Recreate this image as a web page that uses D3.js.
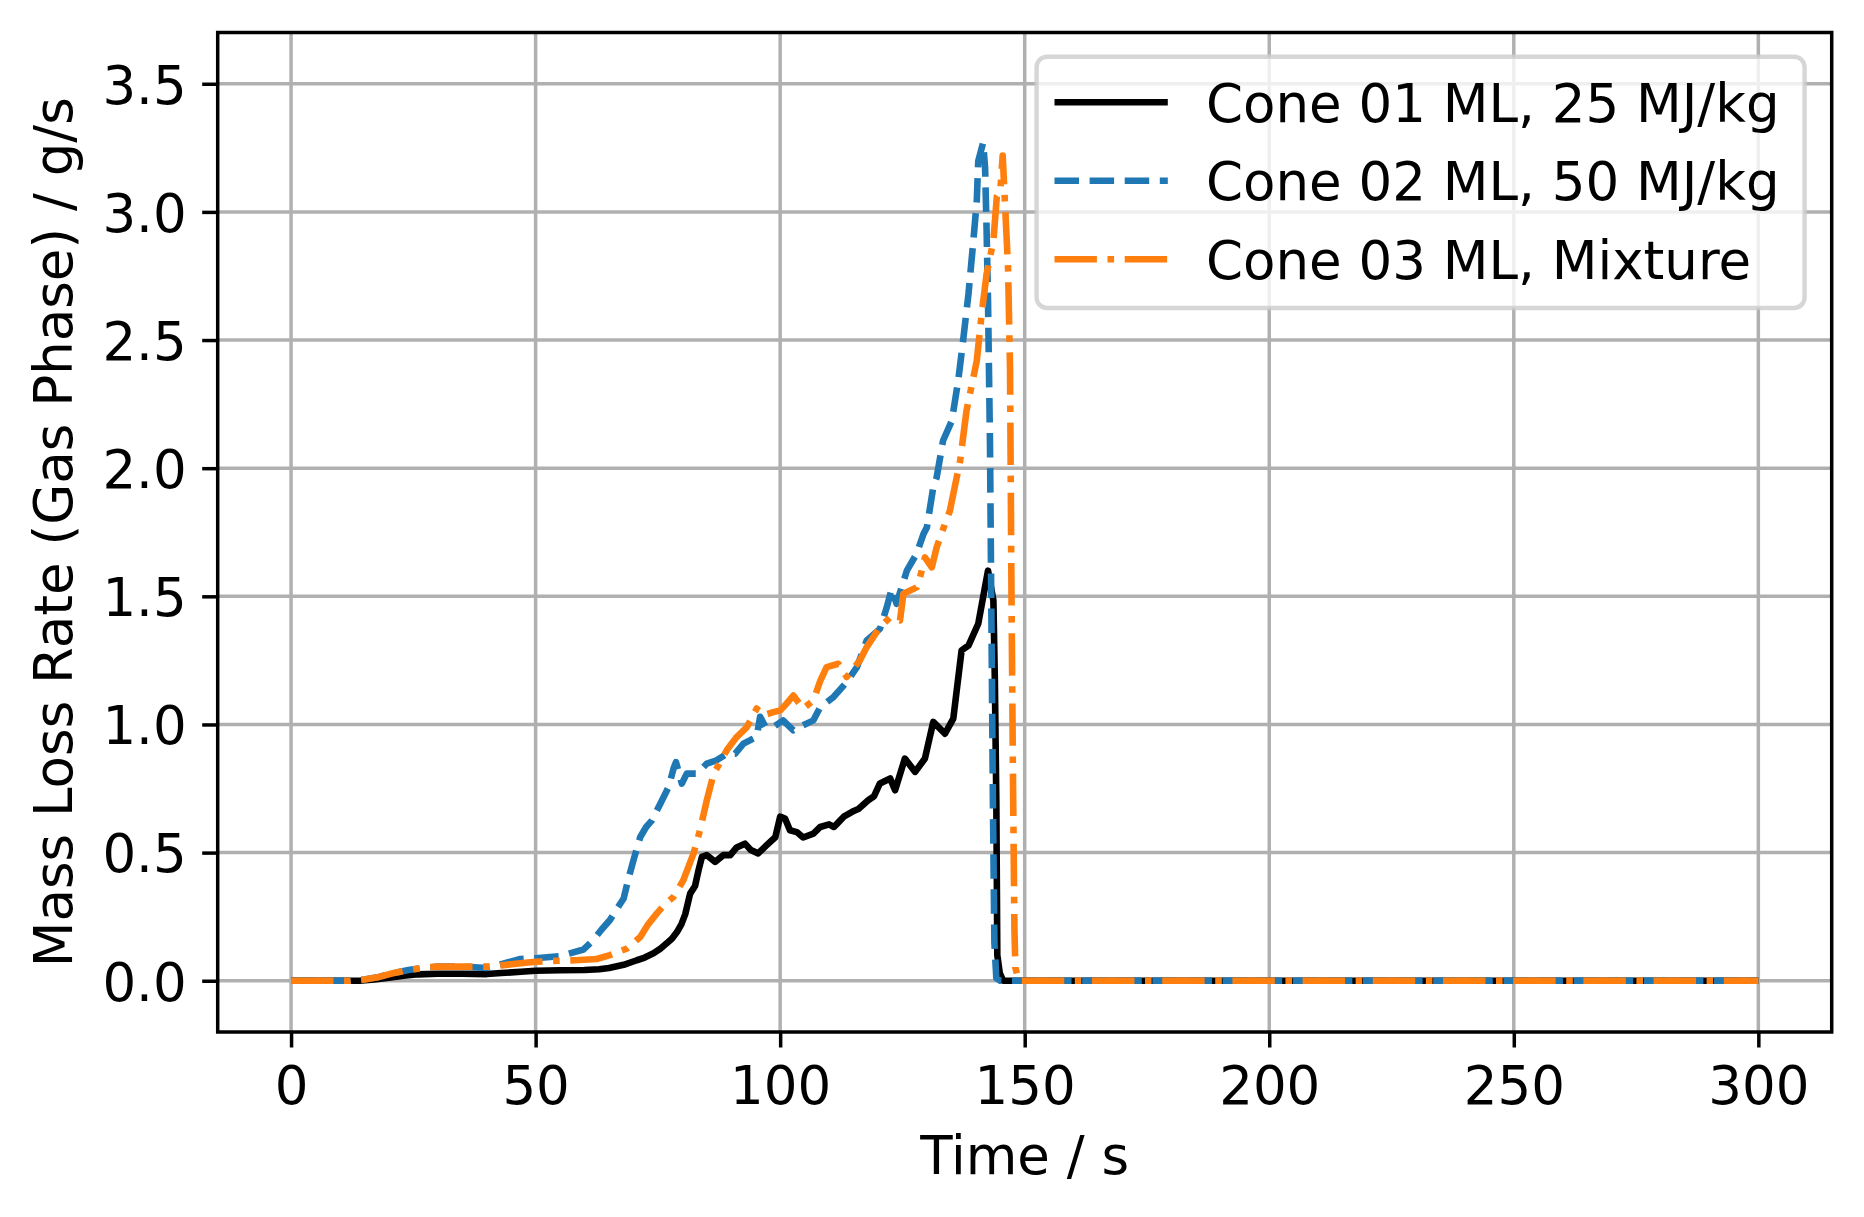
<!DOCTYPE html>
<html>
<head>
<meta charset="utf-8">
<script src="https://cdn.jsdelivr.net/npm/d3@7"></script>
<style>
html,body{margin:0;padding:0;background:#fff;}
svg{display:block;font-family:"DejaVu Sans",sans-serif;}
</style>
</head>
<body>
<svg id="chart" width="1864" height="1217"></svg>
<script>
// ---- data (time [s], mass loss rate [g/s]) ----
const cone01 = [[0,0],[14,0],[17,0.005],[20,0.012],[23,0.02],[26,0.025],[30,0.027],[35,0.027],[40,0.026],[43,0.03],[47,0.035],[50,0.039],[55,0.041],[60,0.042],[63,0.045],[65,0.05],[68,0.062],[70.7,0.08],[72,0.088],[74.1,0.107],[75.5,0.125],[76.8,0.146],[77.9,0.165],[78.9,0.19],[79.8,0.22],[80.6,0.26],[81.6,0.34],[82.6,0.37],[83.3,0.43],[84,0.483],[85,0.49],[86.7,0.464],[88.4,0.49],[89.8,0.49],[91.1,0.52],[92.8,0.535],[94,0.51],[95.5,0.497],[97.3,0.53],[99,0.56],[100,0.64],[101,0.633],[102,0.587],[103.4,0.58],[104.7,0.559],[106.8,0.574],[108.2,0.6],[110,0.61],[111,0.6],[112,0.62],[113,0.64],[114.8,0.66],[116,0.67],[118,0.704],[119.2,0.72],[120.4,0.77],[122.5,0.789],[123.5,0.743],[125.5,0.867],[127.6,0.815],[129.6,0.867],[131.3,1.01],[133.7,0.964],[135.4,1.023],[136.1,1.133],[137.1,1.289],[138.5,1.308],[140.5,1.393],[141.5,1.497],[142.5,1.6],[143.6,1.484],[143.9,1.17],[144.2,0.7],[144.4,0.1],[144.9,0.03],[145.6,0],[300,0]];
const cone02 = [[0,0],[12,0],[15,0.005],[18,0.015],[21,0.03],[24,0.042],[27,0.05],[30,0.055],[35,0.055],[40,0.05],[43,0.065],[46.9,0.085],[50,0.088],[55,0.096],[59.8,0.122],[61.8,0.159],[63.5,0.2],[65.2,0.237],[66.6,0.28],[68,0.321],[69,0.4],[70,0.47],[71.4,0.561],[72.6,0.6],[73.8,0.626],[75.5,0.691],[77.2,0.756],[78.2,0.828],[78.7,0.853],[79.9,0.769],[80.9,0.808],[83,0.808],[85,0.847],[87,0.86],[89.1,0.886],[90.8,0.886],[92.5,0.925],[94,0.94],[95.2,0.951],[95.9,1.03],[97,0.99],[98.6,0.99],[100.6,1.016],[102.7,0.977],[104.7,0.997],[106.8,1.016],[108.2,1.068],[110.9,1.107],[113.6,1.165],[115.7,1.224],[117.7,1.328],[120.4,1.373],[121.8,1.457],[122.8,1.529],[123.8,1.471],[125.9,1.6],[127.9,1.666],[129.3,1.743],[130,1.769],[131.3,1.925],[132,1.964],[133.3,2.107],[135.1,2.185],[136.4,2.341],[137.4,2.497],[138.5,2.679],[139.5,2.887],[140.2,3.042],[140.5,3.198],[141.5,3.27],[141.9,3.172],[142.2,2.938],[142.5,2.653],[142.9,2.1],[143.2,1.4],[143.5,0.7],[143.8,0.15],[144.2,0.01],[145,0],[300,0]];
const cone03 = [[0,0],[12,0],[15,0.005],[18,0.015],[21,0.03],[24,0.042],[27,0.05],[30,0.055],[35,0.055],[40,0.055],[43,0.06],[46.9,0.068],[50,0.074],[54.4,0.078],[58,0.08],[62.5,0.085],[65.2,0.1],[68.7,0.126],[71.4,0.171],[73,0.22],[74.8,0.263],[76.5,0.3],[78.2,0.327],[80.2,0.392],[82.3,0.497],[83.6,0.587],[85,0.704],[86.4,0.808],[87.4,0.841],[89.1,0.9],[91.1,0.951],[93.2,0.99],[95.2,1.062],[96.6,1.036],[98.6,1.048],[100,1.055],[101.3,1.081],[102.7,1.113],[104.7,1.062],[106.8,1.094],[108.2,1.17],[109.5,1.224],[111.9,1.237],[113.6,1.185],[116.3,1.25],[117.7,1.302],[120.4,1.38],[122.5,1.418],[124.5,1.406],[125.2,1.51],[127.9,1.535],[128.6,1.574],[129.6,1.652],[131,1.613],[132,1.691],[133.7,1.783],[134.7,1.834],[136.8,2.029],[138.1,2.224],[140.2,2.419],[141.2,2.601],[142.2,2.757],[143.6,2.887],[144.3,3.06],[145,3.08],[145.5,3.22],[146,3.02],[146.6,2.78],[147,2.39],[147.3,1.5],[147.6,0.8],[147.9,0.2],[148.1,0.05],[148.8,0],[300,0]];

const seriesNames = ["Cone 01 ML, 25 MJ/kg","Cone 02 ML, 50 MJ/kg","Cone 03 ML, Mixture"];
const xTicks = [0,50,100,150,200,250,300];
const yTicks = [0.0,0.5,1.0,1.5,2.0,2.5,3.0,3.5];
const xLabel = "Time / s";
const yLabel = "Mass Loss Rate (Gas Phase) / g/s";

// ---- layout ----
const L = 217.7, R = 1831.7, T = 32.5, B = 1032;
const FS = 53;
const svg = d3.select("#chart");
const x = d3.scaleLinear().domain([-15,315]).range([L,R]);
const y = d3.scaleLinear().domain([-0.2,3.7]).range([B,T]);

svg.append("defs").append("clipPath").attr("id","clip")
  .append("rect").attr("x",L).attr("y",T).attr("width",R-L).attr("height",B-T);

// grid
const grid = svg.append("g");
grid.selectAll(".gx").data(xTicks).enter().append("line")
  .attr("x1",d=>x(d)).attr("x2",d=>x(d)).attr("y1",T).attr("y2",B)
  .attr("stroke","#b0b0b0").attr("stroke-width",3.5);
grid.selectAll(".gy").data(yTicks).enter().append("line")
  .attr("x1",L).attr("x2",R).attr("y1",d=>y(d)).attr("y2",d=>y(d))
  .attr("stroke","#b0b0b0").attr("stroke-width",3.5);

// lines
const line = d3.line().x(d=>x(d[0])).y(d=>y(d[1]));
const styles = [
  {data:cone01, color:"#000000", dash:null},
  {data:cone02, color:"#1f77b4", dash:"24.5,10.6"},
  {data:cone03, color:"#ff7f0e", dash:"42.4,10.6,6.6,10.6"}
];
const lg = svg.append("g").attr("clip-path","url(#clip)");
styles.forEach(s=>{
  lg.append("path").datum(s.data).attr("d",line)
    .attr("fill","none").attr("stroke",s.color).attr("stroke-width",6.6)
    .attr("stroke-linejoin","round").attr("stroke-linecap","butt")
    .attr("stroke-dasharray",s.dash);
});

// axes
const xAxis = d3.axisBottom(x).tickValues(xTicks).tickFormat(d3.format("d")).tickSize(15.5).tickPadding(12);
const yAxis = d3.axisLeft(y).tickValues(yTicks).tickFormat(d3.format(".1f")).tickSize(15.5).tickPadding(12);
const gx = svg.append("g").attr("transform",`translate(0,${B})`).call(xAxis);
const gy = svg.append("g").attr("transform",`translate(${L},0)`).call(yAxis);
[gx,gy].forEach(g=>{
  g.select(".domain").remove();
  g.selectAll(".tick line").attr("stroke","#000").attr("stroke-width",3.5);
  g.selectAll(".tick text").attr("font-size",FS).attr("font-family","DejaVu Sans").attr("fill","#000");
});
gx.selectAll(".tick text").attr("dy",null).attr("y",null).attr("transform",null)
  .attr("y",1104-B);
gy.selectAll(".tick text").attr("dy",null).attr("x",-31).attr("y",19.3);

// spines
svg.append("rect").attr("x",L).attr("y",T).attr("width",R-L).attr("height",B-T)
  .attr("fill","none").attr("stroke","#000").attr("stroke-width",3.5);

// axis labels
svg.append("text").attr("x",(L+R)/2).attr("y",1173.5).attr("text-anchor","middle")
  .attr("font-size",FS).text(xLabel);
svg.append("text").attr("transform",`translate(72,${(T+B)/2}) rotate(-90)`)
  .attr("text-anchor","middle").attr("font-size",FS).text(yLabel);

// legend
const leg = svg.append("g");
leg.append("rect").attr("x",1036.6).attr("y",56.7).attr("width",768).attr("height",251.3)
  .attr("rx",10.6).attr("ry",10.6)
  .attr("fill","#ffffff").attr("fill-opacity",0.8)
  .attr("stroke","#cccccc").attr("stroke-opacity",0.8).attr("stroke-width",4.4);
const rowY = [102.3,180.8,259.3];
styles.forEach((s,i)=>{
  leg.append("line").attr("x1",1054.5).attr("x2",1167.8).attr("y1",rowY[i]).attr("y2",rowY[i])
    .attr("stroke",s.color).attr("stroke-width",6.6).attr("stroke-dasharray",s.dash);
  leg.append("text").attr("x",1206).attr("y",rowY[i]+19.4).attr("font-size",FS).text(seriesNames[i]);
});
</script>
</body>
</html>
